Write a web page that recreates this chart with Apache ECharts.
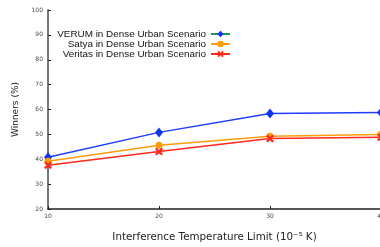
<!DOCTYPE html>
<html>
<head>
<meta charset="utf-8">
<script src="https://cdn.jsdelivr.net/npm/echarts@6/dist/echarts.min.js"></script>
<style>
  html, body { margin: 0; padding: 0; background: #fff; }
  #chart { width: 380px; height: 247px; }
</style>
</head>
<body>
<div id="chart"></div>
<script>
// data
var limits = [10, 20, 30, 40];
var verum = [40.8, 50.8, 58.4, 58.8];
var satya = [39.2, 45.6, 49.2, 50.0];
var veritas = [37.6, 43.1, 48.3, 48.8];
var yTicks = [20, 30, 40, 50, 60, 70, 80, 90, 100];

var crossPath = 'path://M0,2L2,0L5,3L8,0L10,2L7,5L10,8L8,10L5,7L2,10L0,8L3,5Z';

function pairs(vals) {
	return limits.map(function (x, i) { return [x, vals[i]]; });
}

var myChart = echarts.init(document.getElementById('chart'));

var option = {
	animation: false,
	grid: { left: 48, top: 10, width: 333, bottom: 38, outerBoundsMode: 'none', containLabel: false },
	legend: {
		orient: 'vertical',
		align: 'right',
		right: 144,
		top: 24,
		itemWidth: 19,
		itemHeight: 8,
		itemGap: 0,
		textStyle: { fontFamily: 'Liberation Sans', fontSize: 9.9, lineHeight: 10, color: '#111' },
		data: [
			{ name: 'VERUM in Dense Urban Scenario', lineStyle: { color: '#1a9a50' }, itemStyle: { color: '#1234f5' } },
			{ name: 'Satya in Dense Urban Scenario' },
			{ name: 'Veritas in Dense Urban Scenario' }
		]
	},
	xAxis: {
		type: 'value',
		min: 10,
		max: 40,
		interval: 10,
		name: 'Interference Temperature Limit (10\u207B\u2075 K)',
		nameLocation: 'middle',
		nameGap: 23,
		nameTextStyle: { fontFamily: 'DejaVu Sans', fontSize: 10.3, color: '#222' },
		axisLine: { lineStyle: { color: '#222', width: 1.5 } },
		axisTick: { inside: true, length: 3, lineStyle: { color: '#222' } },
		axisLabel: { fontFamily: 'DejaVu Sans', fontSize: 6, color: '#444', margin: 4 },
		splitLine: { show: false }
	},
	yAxis: {
		type: 'value',
		min: 20,
		max: 100,
		interval: 10,
		name: 'Winners (%)',
		nameLocation: 'middle',
		nameGap: 25,
		nameTextStyle: { fontFamily: 'DejaVu Sans', fontSize: 9, color: '#222' },
		axisLine: { show: true, lineStyle: { color: '#777', width: 2 } },
		axisTick: { show: true, inside: true, length: 3, lineStyle: { color: '#222' } },
		axisLabel: { fontFamily: 'DejaVu Sans', fontSize: 6, color: '#444', margin: 5 },
		splitLine: { show: false }
	},
	series: [
		{
			name: 'VERUM in Dense Urban Scenario',
			type: 'line',
			data: pairs(verum),
			symbol: 'diamond',
			symbolSize: [8, 10],
			lineStyle: { color: '#1f3cff', width: 1.5 },
			itemStyle: { color: '#1234f5' }
		},
		{
			name: 'Satya in Dense Urban Scenario',
			type: 'line',
			data: pairs(satya),
			symbol: 'circle',
			symbolSize: 7,
			lineStyle: { color: '#ff9c0a', width: 1.5 },
			itemStyle: { color: '#ff9c0a' }
		},
		{
			name: 'Veritas in Dense Urban Scenario',
			type: 'line',
			data: pairs(veritas),
			symbol: crossPath,
			symbolSize: 8,
			lineStyle: { color: '#ff2a1a', width: 1.5 },
			itemStyle: { color: '#ff2a1a' }
		}
	]
};
myChart.setOption(option);
</script>
</body>
</html>
